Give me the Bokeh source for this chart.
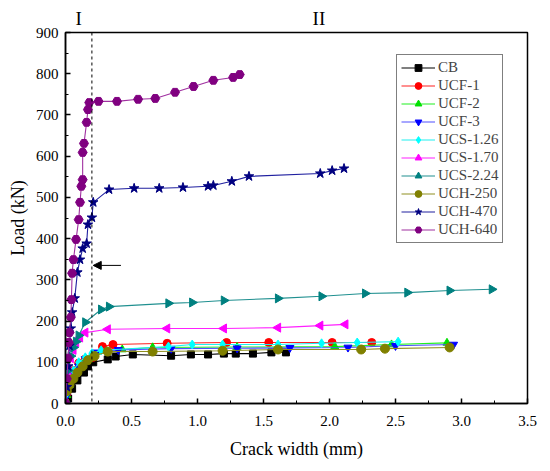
import math
from bokeh.plotting import figure
from bokeh.models import (Range1d, SingleIntervalTicker, PrintfTickFormatter, Span,
                          Arrow, NormalHead, Legend, LinearAxis, FixedTicker)
from bokeh.embed import file_html
from bokeh.resources import INLINE

FONT = "Liberation Serif"

# ---------------- data ----------------
cb_x = [0.0, 0.02, 0.05, 0.09, 0.14, 0.17, 0.21, 0.32, 0.38, 0.51, 0.80, 0.95, 1.08, 1.20, 1.29, 1.42, 1.56, 1.67]
cb_y = [5, 12, 36, 56, 75, 90, 100, 107, 114, 119, 116, 119, 119, 121, 121, 121, 124, 124]

ucf1_x = [0.0, 0.01, 0.03, 0.06, 0.10, 0.15, 0.21, 0.28, 0.36, 0.77, 1.22, 1.54, 2.02, 2.32]
ucf1_y = [0, 25, 55, 80, 98, 108, 112, 138, 143, 146, 148, 148, 148, 148]

ucf2_x = [0.0, 0.01, 0.03, 0.06, 0.10, 0.15, 0.20, 0.43, 0.66, 1.30, 2.04, 2.47, 2.89]
ucf2_y = [0, 20, 45, 70, 90, 105, 118, 131, 136, 137, 138, 143, 147]

ucf3_x = [0.0, 0.01, 0.03, 0.06, 0.10, 0.15, 0.23, 0.40, 0.80, 1.30, 1.70, 2.14, 2.50, 2.94]
ucf3_y = [0, 20, 45, 70, 90, 108, 124, 130, 133, 134, 135, 136, 140, 143]

ucs126_x = [0.0, 0.01, 0.03, 0.06, 0.10, 0.15, 0.20, 0.27, 0.78, 0.96, 1.19, 1.61, 1.94, 2.21, 2.52]
ucs126_y = [0, 25, 55, 80, 100, 112, 122, 129, 138, 143, 143, 143, 146, 148, 150]

ucs170_x = [0.0, 0.01, 0.02, 0.04, 0.06, 0.08, 0.11, 0.15, 0.32, 0.77, 1.20, 1.61, 1.93, 2.12]
ucs170_y = [0, 40, 80, 110, 130, 148, 160, 172, 180, 182, 182, 184, 189, 192]

ucs224_x = [0.0, 0.01, 0.02, 0.04, 0.06, 0.08, 0.10, 0.15, 0.27, 0.33, 0.78, 0.96, 1.20, 1.61, 1.94, 2.27, 2.59, 2.91, 3.23]
ucs224_y = [0, 40, 80, 115, 136, 150, 165, 197, 228, 235, 243, 245, 250, 255, 260, 267, 269, 274, 277]

uch250_x = [0.0, 0.01, 0.03, 0.06, 0.09, 0.13, 0.17, 0.22, 0.32, 0.66, 1.19, 1.61, 2.24, 2.42, 2.91]
uch250_y = [0, 30, 45, 60, 75, 90, 105, 115, 126, 126, 128, 131, 131, 133, 136]

uch470_x = [0.0, 0.01, 0.02, 0.03, 0.04, 0.05, 0.07, 0.09, 0.11, 0.13, 0.16, 0.17, 0.20, 0.21, 0.33, 0.52,
            0.71, 0.89, 1.08, 1.12, 1.26, 1.39, 1.93, 2.02, 2.11]
uch470_y = [0, 40, 90, 140, 182, 221, 255, 318, 349, 376, 388, 434, 451, 488, 519, 522,
            522, 524, 527, 529, 539, 551, 558, 565, 570]

uch640_x = [0.0, 0.01, 0.02, 0.025, 0.03, 0.04, 0.045, 0.05, 0.06, 0.08, 0.10, 0.11, 0.12, 0.13, 0.13, 0.14,
            0.16, 0.17, 0.18, 0.25, 0.39, 0.55, 0.68, 0.83, 0.97, 1.12, 1.27, 1.32]
uch640_y = [0, 60, 110, 148, 172, 209, 252, 316, 349, 398, 446, 488, 527, 543, 609, 631,
            682, 713, 730, 733, 733, 738, 740, 755, 769, 784, 791, 798]

series_names = ["CB", "UCF-1", "UCF-2", "UCF-3", "UCS-1.26", "UCS-1.70", "UCS-2.24",
                "UCH-250", "UCH-470", "UCH-640"]
series_x = [cb_x, ucf1_x, ucf2_x, ucf3_x, ucs126_x, ucs170_x, ucs224_x, uch250_x, uch470_x, uch640_x]
series_y = [cb_y, ucf1_y, ucf2_y, ucf3_y, ucs126_y, ucs170_y, ucs224_y, uch250_y, uch470_y, uch640_y]

x_label = "Crack width (mm)"
y_label = "Load (kN)"
region_labels = ["I", "II"]
region_label_x = [0.10, 1.92]
boundary_x = 0.2
arrow_y = 335
arrow_x = [0.42, 0.21]

# ---------------- styles ----------------
colors = ["#000000", "#FF0000", "#00E000", "#0000FF", "#00FFFF", "#FF00FF", "#008080",
          "#808000", "#000080", "#800080"]
line_colors = ["#000000", "#FF2020", "#20F020", "#5050FF", "#20F0F0", "#FF20FF", "#209090",
               "#909020", "#2020A0", "#A030A0"]
markers = ["square", "circle", "triangle", "inverted_triangle", "diamond", "triangle", "triangle",
           "circle", "star", "hex"]
angles = [0, 0, 0, 0, 0, math.pi / 2, -math.pi / 2, 0, 0, 0]
sizes = [7, 8, 8, 8, 9, 9, 9, 9, 10, 9]

p = figure(frame_width=462, frame_height=371, output_backend="svg", toolbar_location=None,
           x_range=Range1d(0, 3.5), y_range=Range1d(0, 900),
           min_border_left=65, min_border_right=15, min_border_top=32, min_border_bottom=60)
p.xgrid.visible = False
p.ygrid.visible = False
p.outline_line_color = "black"
p.outline_line_width = 1.5
p.background_fill_color = "white"
p.border_fill_color = "white"

p.xaxis.ticker = SingleIntervalTicker(interval=0.5, num_minor_ticks=2)
p.yaxis.ticker = SingleIntervalTicker(interval=100, num_minor_ticks=2)
p.xaxis.formatter = PrintfTickFormatter(format="%.1f")
for ax in (p.xaxis, p.yaxis):
    ax.major_tick_in = 5
    ax.major_tick_out = 0
    ax.minor_tick_in = 3
    ax.minor_tick_out = 0
    ax.axis_line_width = 1.5
    ax.major_tick_line_width = 1.5
    ax.minor_tick_line_width = 1
    ax.major_label_text_font = FONT
    ax.major_label_text_font_size = "15px"
    ax.major_label_text_color = "black"
    ax.axis_label_text_font = FONT
    ax.axis_label_text_font_size = "18px"
    ax.axis_label_text_font_style = "normal"
    ax.axis_label_text_color = "black"
p.xaxis.axis_label = x_label
p.yaxis.axis_label = y_label
p.xaxis.major_label_standoff = 12
p.yaxis.major_label_standoff = 7
p.xaxis.axis_label_standoff = 10
p.yaxis.axis_label_standoff = 5

# region labels I / II placed as a tickless axis above the frame
top_axis = LinearAxis(ticker=FixedTicker(ticks=region_label_x),
                      major_label_overrides={v: t for v, t in zip(region_label_x, region_labels)})
top_axis.axis_line_alpha = 0
top_axis.major_tick_line_alpha = 0
top_axis.minor_tick_line_alpha = 0
top_axis.major_tick_in = 0
top_axis.major_tick_out = 0
top_axis.major_label_standoff = 4
top_axis.major_label_text_font = FONT
top_axis.major_label_text_font_size = "19px"
top_axis.major_label_text_color = "black"
p.add_layout(top_axis, "above")

items = []
for name, xs, ys, c, lc, m, a, s in zip(series_names, series_x, series_y, colors, line_colors,
                                        markers, angles, sizes):
    r1 = p.line(xs, ys, line_color=lc, line_width=1.1)
    r2 = p.scatter(xs, ys, marker=m, angle=a, size=s, fill_color=c, line_color=c)
    items.append((name, [r1, r2]))

legend = Legend(items=items, location=(331, 160))
legend.label_text_font = FONT
legend.label_text_font_size = "15px"
legend.glyph_width = 34
legend.glyph_height = 17
legend.label_height = 17
legend.spacing = 1
legend.padding = 4
legend.margin = 0
legend.label_standoff = 3
legend.border_line_color = "black"
legend.border_line_width = 1
legend.background_fill_alpha = 1
p.add_layout(legend, "center")

p.add_layout(Span(location=boundary_x, dimension="height", line_color="black",
                  line_dash="3 3", line_width=1))

p.add_layout(Arrow(end=NormalHead(size=8, fill_color="black", line_color="black"),
                   x_start=arrow_x[0], y_start=arrow_y, x_end=arrow_x[1], y_end=arrow_y,
                   line_color="black", line_width=1))

open("out.html", "w").write(file_html(p, INLINE))
